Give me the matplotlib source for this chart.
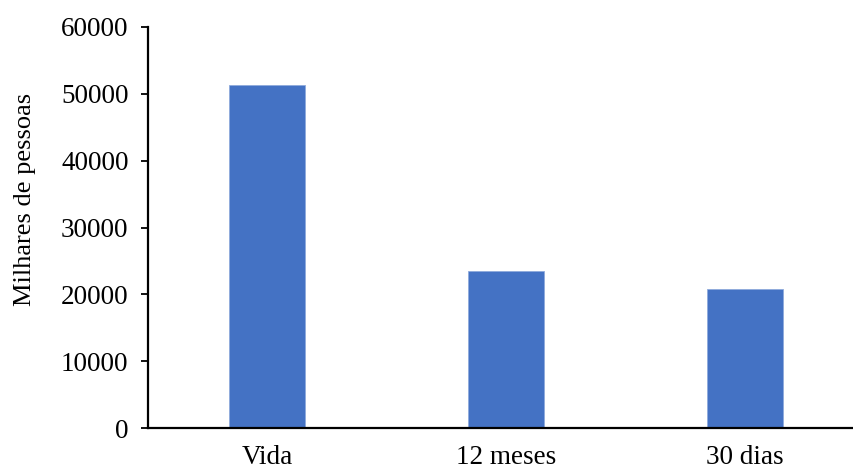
import matplotlib
matplotlib.use("Agg")
import matplotlib.pyplot as plt

categories = ["Vida", "12 meses", "30 dias"]
values = [51300, 23450, 20750]
yticks = [0, 10000, 20000, 30000, 40000, 50000, 60000]

plt.rcParams['font.family'] = ['Liberation Serif', 'DejaVu Serif']

fig = plt.figure(figsize=(8.54, 4.68), dpi=100)
ax = fig.add_axes([148/854, 40/468, 1 - 148/854, 401/468])

x = list(range(len(categories)))
ax.bar(x, values, width=0.318, color="#4472C4", edgecolor="#8FAADC", linewidth=0.6)

ax.set_ylim(0, 60000)
ax.set_xlim(-0.5, 2.455)
ax.set_yticks(yticks)
ax.set_yticklabels([str(t) for t in yticks])
ax.set_xticks(x)
ax.set_xticklabels(categories)

for s in ["top", "right"]:
    ax.spines[s].set_visible(False)
for s in ["left", "bottom"]:
    ax.spines[s].set_linewidth(1.6)
    ax.spines[s].set_color("black")

fs = 19.5
ax.tick_params(axis="y", length=5, width=1.3, pad=9, labelsize=fs, colors="black")
ax.tick_params(axis="x", length=0, pad=12, labelsize=fs, colors="black")
ax.set_ylabel("Milhares de pessoas", fontsize=19, color="black")
ax.yaxis.set_label_coords(-0.158, 0.571)

fig.savefig("out.png", dpi=100)
